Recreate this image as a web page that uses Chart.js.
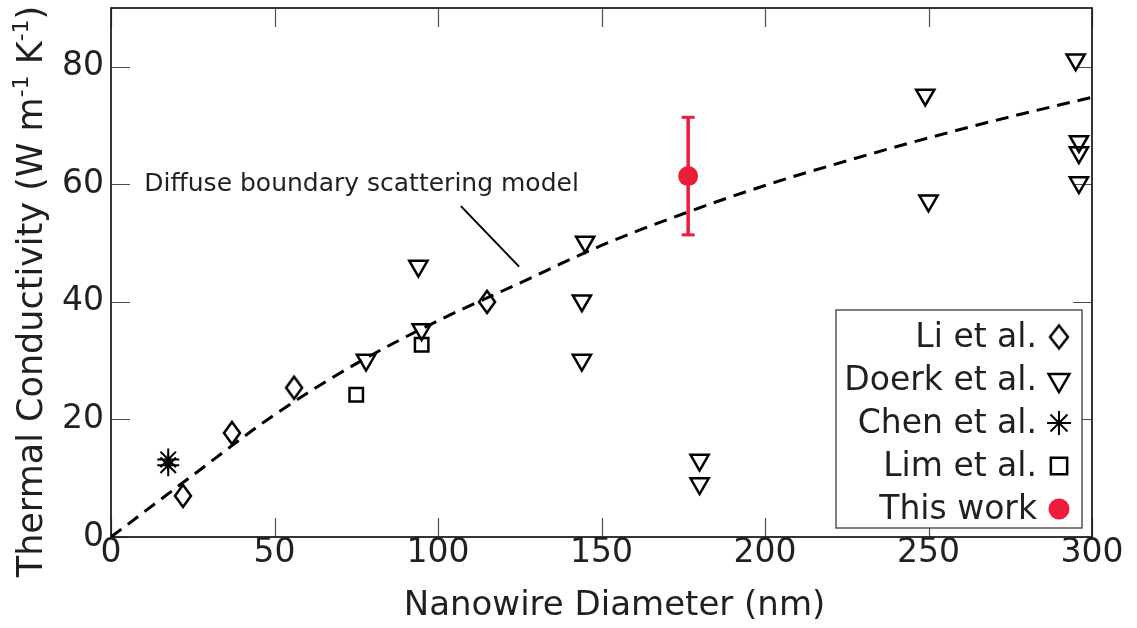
<!DOCTYPE html>
<html>
<head>
<meta charset="utf-8">
<title>Thermal conductivity vs nanowire diameter</title>
<script src="https://cdn.jsdelivr.net/npm/chart.js@4.4.0/dist/chart.umd.min.js"></script>
<style>
  html, body { margin: 0; padding: 0; background: #fff; }
  #wrap { width: 1137px; height: 628px; }
</style>
</head>
<body>
<div id="wrap"><canvas id="chart" width="1137" height="628"></canvas></div>
<script>
// measured conductivities, W m^-1 K^-1, against wire diameter in nm
const liD = [22, 37, 56, 115];
const liK = [7, 17.7, 25.4, 40];
const doerkD = [78, 94, 95, 144, 144, 145, 180, 180, 249, 250, 295, 296, 296, 296];
const doerkK = [30.1, 46.1, 35.3, 40.2, 30.1, 50.2, 13.1, 9.1, 75.2, 57.2, 81.2, 67.3, 65.4, 60.3];
const chenD = [17.5, 17.5];
const chenK = [12.2, 13.2];
const limD = [75, 95];
const limK = [24.2, 32.7];
const thisD = [176.5];
const thisK = [61.4];
const thisErr = [10];

// diffuse boundary scattering model curve
const modelD = [0, 25, 50, 75, 100, 125, 150, 175, 200, 225, 250, 275, 300];
const modelK = [0, 10.5, 20.8, 29.5, 36.8, 43.2, 49.6, 55.0, 59.8, 64.0, 67.9, 71.5, 74.8];

// leader from the model label down to the curve
const leaderD = [107, 124.8];
const leaderK = [56.3, 46.0];
const modelLabel = 'Diffuse boundary scattering model';
const modelLabelAt = [10.2, 60.0];

const xTickValues = [0, 50, 100, 150, 200, 250, 300];
const yTickValues = [0, 20, 40, 60, 80];
const legendNames = ['Li et al.', 'Doerk et al.', 'Chen et al.', 'Lim et al.', 'This work'];

const RED = '#ec1c3a';
const INK = '#231f20';
const FONT = 'DejaVu Sans';

const pts = (xs, ys) => xs.map((x, i) => ({x, y: ys[i]}));

// tall open diamond, the built-in rectRot is square
function diamond(w, h, lw) {
  const c = document.createElement('canvas');
  c.width = w + 6;
  c.height = h + 6;
  const g = c.getContext('2d');
  g.strokeStyle = '#000';
  g.lineWidth = lw;
  g.beginPath();
  g.moveTo(c.width / 2, 3);
  g.lineTo(c.width - 3, c.height / 2);
  g.lineTo(c.width / 2, c.height - 3);
  g.lineTo(3, c.height / 2);
  g.closePath();
  g.stroke();
  return c;
}

// error bar ends, one gap between bars
const errPts = [];
thisD.forEach((d, i) => {
  if (i > 0) errPts.push({x: d, y: null});
  errPts.push({x: d, y: thisK[i] - thisErr[i]}, {x: d, y: thisK[i] + thisErr[i]});
});

const markStyles = [
  {pointStyle: diamond(16, 22, 2.5), rotation: 0, radius: 12, borderWidth: 2.5, stroke: '#000', fill: 'rgba(0,0,0,0)'},
  {pointStyle: 'triangle', rotation: 180, radius: 10.5, borderWidth: 2.5, stroke: '#000', fill: 'rgba(0,0,0,0)'},
  {pointStyle: 'star', rotation: 0, radius: 11, borderWidth: 2, stroke: '#000', fill: 'rgba(0,0,0,0)'},
  {pointStyle: 'rect', rotation: 0, radius: 9.5, borderWidth: 2.5, stroke: '#000', fill: 'rgba(0,0,0,0)'},
  {pointStyle: 'circle', rotation: 0, radius: 10, borderWidth: 0, stroke: RED, fill: RED}
];

// the legend symbols are drawn a little larger than the plotted ones
const legendMarks = [
  {...markStyles[0], pointStyle: diamond(18, 23, 2.5)},
  {...markStyles[1], radius: 12},
  {...markStyles[2], radius: 12},
  {...markStyles[3], radius: 11.5},
  {...markStyles[4], radius: 10.5}
];

function markerSet(data, s) {
  return {
    type: 'scatter',
    data,
    pointStyle: s.pointStyle,
    rotation: s.rotation,
    pointRadius: s.radius,
    pointHoverRadius: s.radius,
    borderWidth: s.borderWidth,
    borderColor: s.stroke,
    backgroundColor: s.fill
  };
}

const frame = {
  id: 'frame',
  beforeDatasetsDraw(chart) {
    const {ctx, chartArea: a, scales: {x, y}} = chart;
    ctx.save();
    ctx.strokeStyle = '#4d4d4d';
    ctx.lineWidth = 1.2;
    const len = 19;
    ctx.beginPath();
    x.ticks.forEach(t => {
      const px = Math.round(x.getPixelForValue(t.value)) + 0.5;
      ctx.moveTo(px, a.bottom); ctx.lineTo(px, a.bottom - len);
      ctx.moveTo(px, a.top); ctx.lineTo(px, a.top + len);
    });
    y.ticks.forEach(t => {
      const py = Math.round(y.getPixelForValue(t.value)) + 0.5;
      ctx.moveTo(a.left, py); ctx.lineTo(a.left + len, py);
      ctx.moveTo(a.right, py); ctx.lineTo(a.right - len, py);
    });
    ctx.stroke();
    ctx.strokeStyle = INK;
    ctx.lineWidth = 1.8;
    ctx.strokeRect(a.left, a.top, a.right - a.left, a.bottom - a.top);
    ctx.restore();
  },
  afterDraw(chart) {
    const {ctx, chartArea: a, scales: {x, y}} = chart;
    ctx.save();
    ctx.fillStyle = INK;

    // model label
    ctx.font = `25px "${FONT}"`;
    ctx.textAlign = 'left';
    ctx.textBaseline = 'middle';
    ctx.fillText(modelLabel, x.getPixelForValue(modelLabelAt[0]), y.getPixelForValue(modelLabelAt[1]));

    // x title
    ctx.font = `34px "${FONT}"`;
    ctx.textAlign = 'center';
    ctx.textBaseline = 'alphabetic';
    ctx.fillText('Nanowire Diameter (nm)', (a.left + a.right) / 2 + 13, 615);

    // y title with superscripts
    const parts = [['Thermal Conductivity (W m', 0], ['-1', 1], [' K', 0], ['-1', 1], [')', 0]];
    const big = `35px "${FONT}"`;
    const small = `22px "${FONT}"`;
    ctx.translate(42, (a.top + a.bottom) / 2 + 19);
    ctx.rotate(-Math.PI / 2);
    ctx.textAlign = 'left';
    let total = 0;
    parts.forEach(([t, sup]) => {
      ctx.font = sup ? small : big;
      total += ctx.measureText(t).width;
    });
    let cx = -total / 2;
    parts.forEach(([t, sup]) => {
      ctx.font = sup ? small : big;
      ctx.fillText(t, cx, sup ? -14 : 0);
      cx += ctx.measureText(t).width;
    });
    ctx.restore();

    // legend box, text right-aligned with the marker after it
    ctx.save();
    const bx = a.right - 256, by = a.bottom - 227, bw = 246, bh = 218;
    ctx.fillStyle = '#fff';
    ctx.fillRect(bx, by, bw, bh);
    ctx.strokeStyle = '#555';
    ctx.lineWidth = 1.5;
    ctx.strokeRect(bx, by, bw, bh);
    ctx.font = `33px "${FONT}"`;
    ctx.textAlign = 'right';
    ctx.textBaseline = 'middle';
    legendNames.forEach((name, i) => {
      const ry = by + 27 + i * 43;
      ctx.fillStyle = INK;
      ctx.fillText(name, bx + 201, ry + 1);
      const s = legendMarks[i];
      ctx.strokeStyle = s.stroke;
      ctx.fillStyle = s.fill;
      ctx.lineWidth = s.borderWidth;
      Chart.helpers.drawPoint(ctx, {pointStyle: s.pointStyle, rotation: s.rotation, radius: s.radius, borderWidth: s.borderWidth}, bx + 223, ry);
    });
    ctx.restore();
  }
};

new Chart(document.getElementById('chart'), {
  type: 'scatter',
  data: {
    datasets: [
      {
        type: 'line',
        data: pts(modelD, modelK),
        borderColor: '#000',
        borderWidth: 3,
        borderDash: [13, 8],
        pointRadius: 0,
        cubicInterpolationMode: 'monotone',
        fill: false
      },
      {
        type: 'line',
        data: pts(leaderD, leaderK),
        borderColor: '#000',
        borderWidth: 2,
        pointRadius: 0,
        fill: false
      },
      markerSet(pts(thisD, thisK), markStyles[4]),
      {
        type: 'line',
        data: errPts,
        borderColor: RED,
        borderWidth: 3.5,
        pointStyle: 'line',
        pointRadius: 6.5,
        pointBorderWidth: 3,
        pointBorderColor: RED,
        spanGaps: false,
        fill: false
      },
      markerSet(pts(liD, liK), markStyles[0]),
      markerSet(pts(doerkD, doerkK), markStyles[1]),
      markerSet(pts(chenD, chenK), markStyles[2]),
      markerSet(pts(limD, limK), markStyles[3])
    ]
  },
  options: {
    responsive: false,
    animation: false,
    devicePixelRatio: 1,
    layout: {autoPadding: false, padding: {left: 0, top: 8, right: 45, bottom: 0}},
    plugins: {legend: {display: false}, tooltip: {enabled: false}},
    scales: {
      x: {
        type: 'linear',
        min: 0,
        max: 300,
        grid: {display: false, drawTicks: false},
        border: {display: false},
        afterBuildTicks: s => { s.ticks = xTickValues.map(value => ({value})); },
        afterFit: s => { s.height = 91; s.paddingLeft = 0; s.paddingRight = 0; },
        ticks: {padding: -3, color: INK, font: {family: FONT, size: 33}, maxRotation: 0}
      },
      y: {
        type: 'linear',
        min: 0,
        max: 90,
        grid: {display: false, drawTicks: false},
        border: {display: false},
        afterBuildTicks: s => { s.ticks = yTickValues.map(value => ({value})); },
        afterFit: s => { s.width = 111; s.paddingTop = 0; s.paddingBottom = 0; },
        ticks: {padding: 7, color: INK, font: {family: FONT, size: 33}}
      }
    }
  },
  plugins: [frame]
});
</script>
</body>
</html>
